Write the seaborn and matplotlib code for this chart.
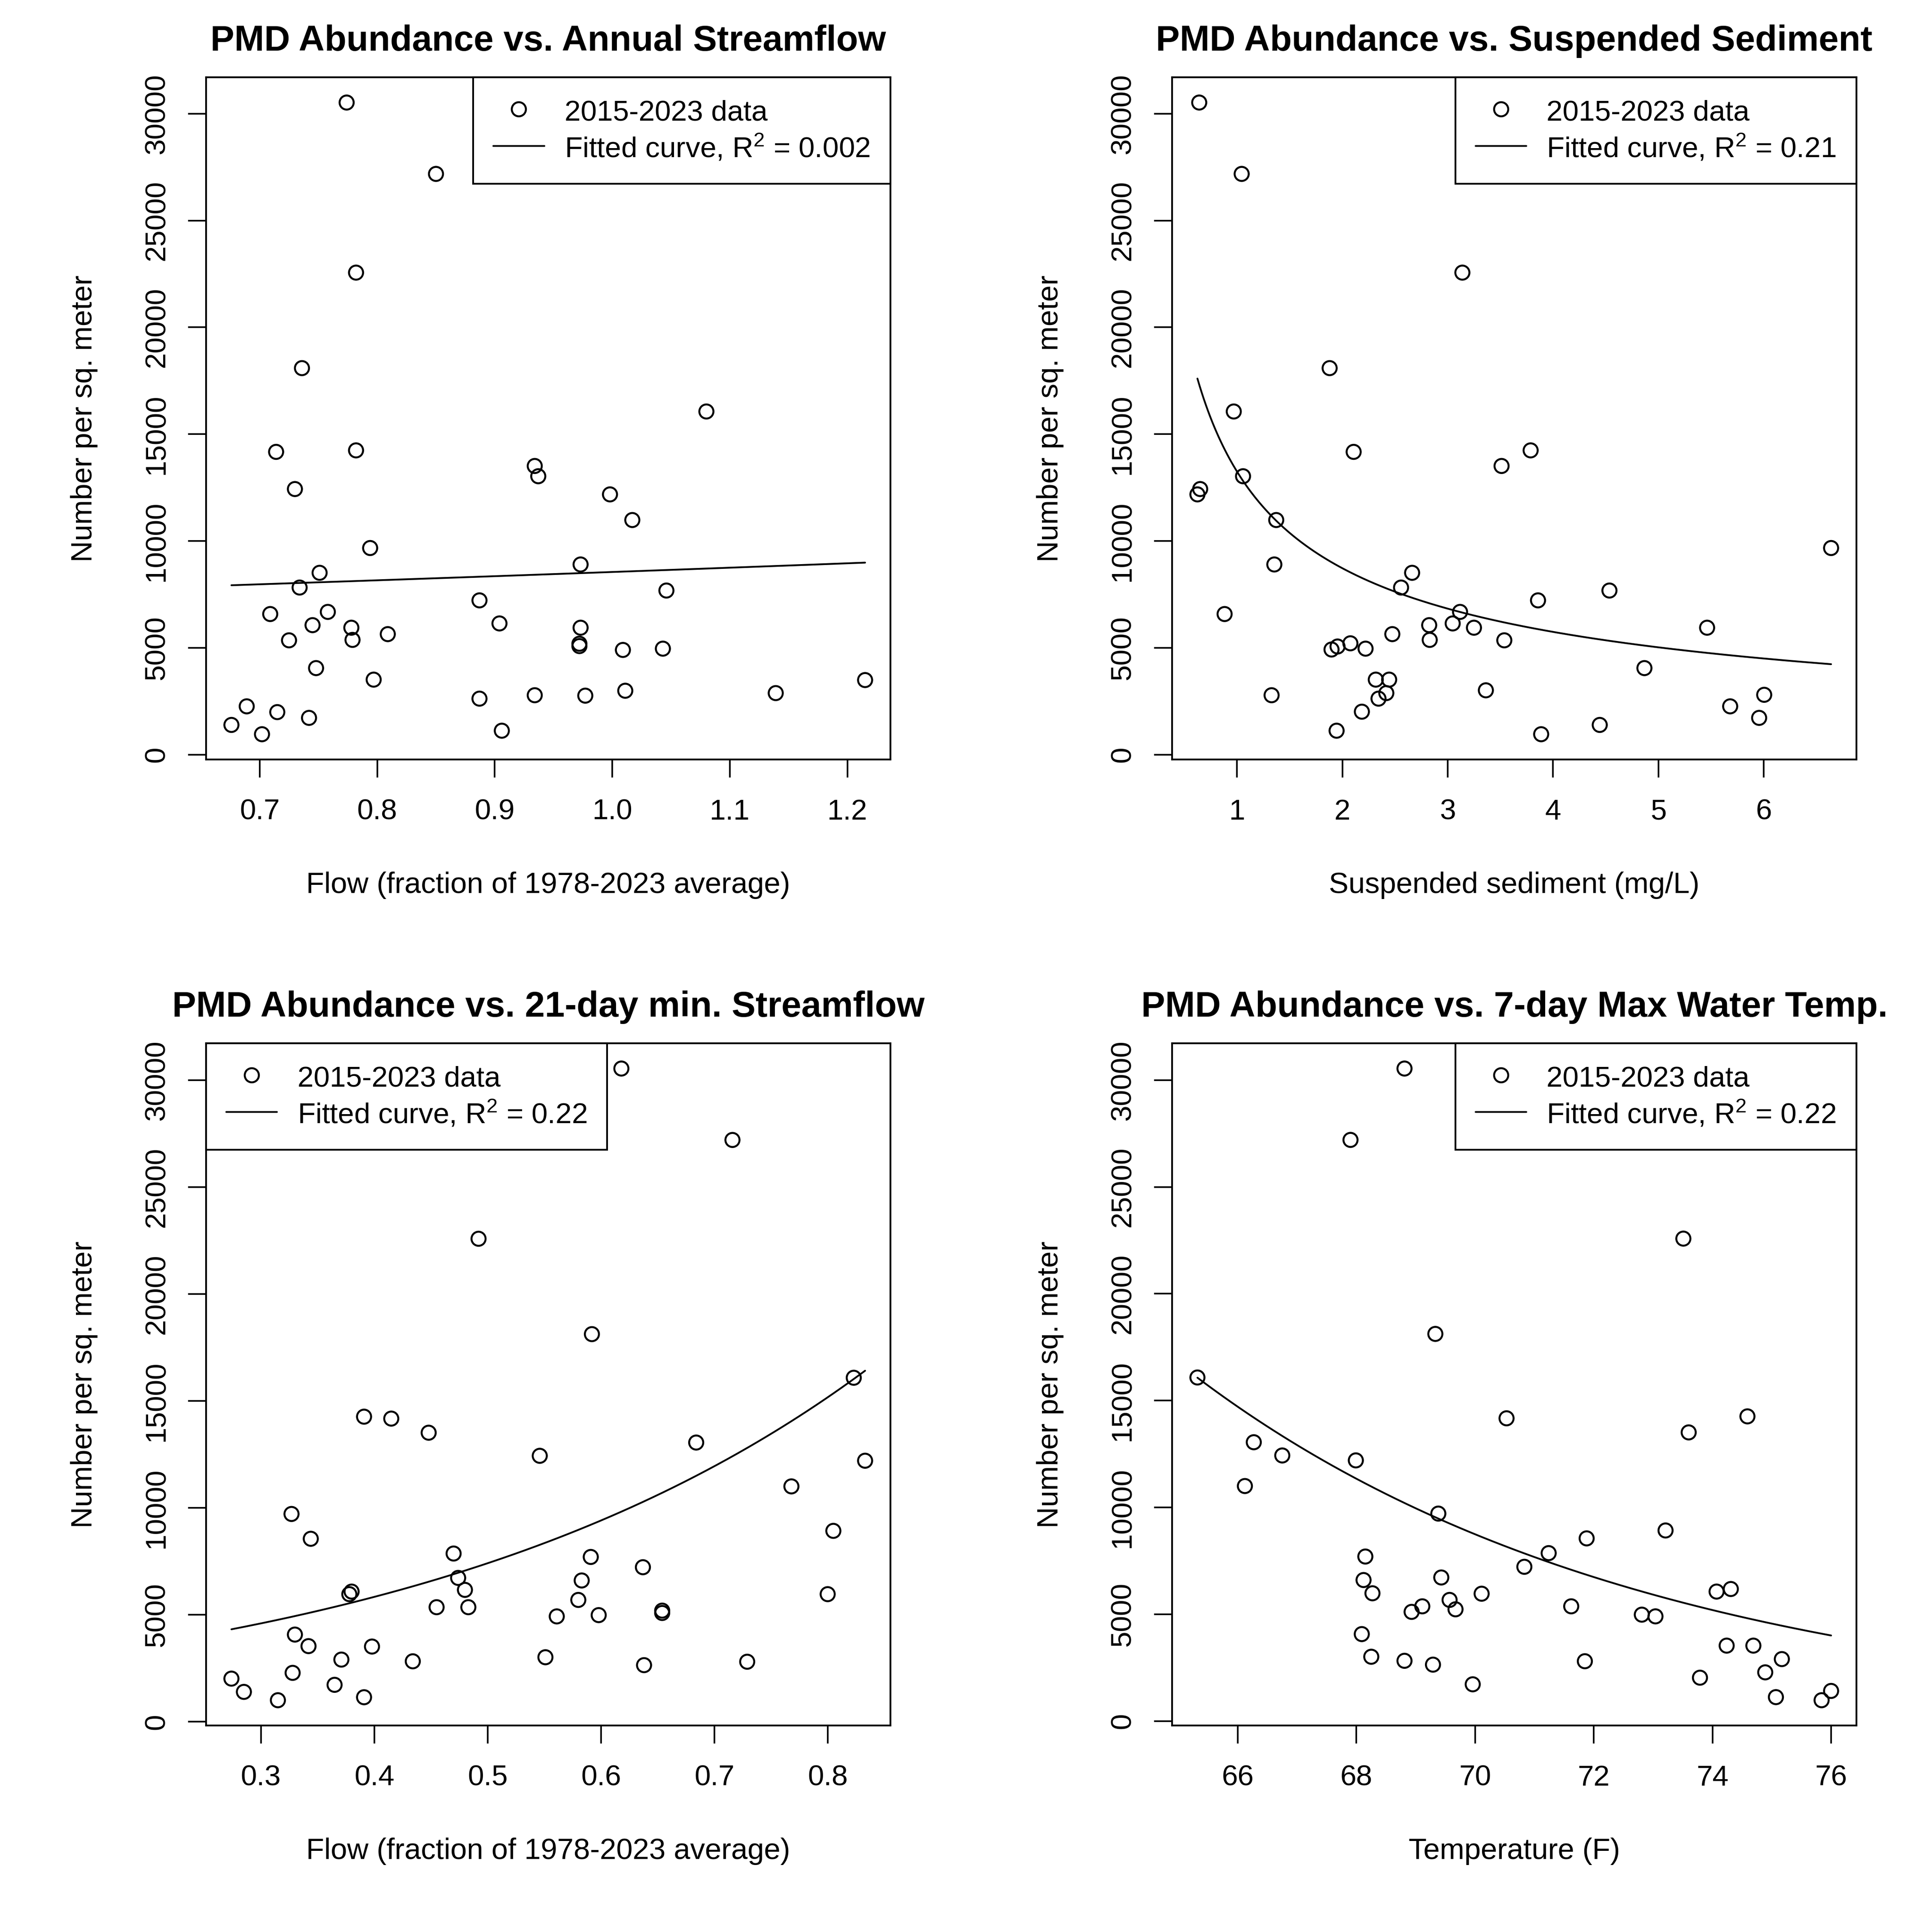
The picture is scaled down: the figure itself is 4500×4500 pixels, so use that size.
import numpy as np
import pandas as pd
import matplotlib
matplotlib.use("Agg")
import matplotlib.pyplot as plt
import seaborn as sns
from matplotlib.lines import Line2D

# ---------------- data ----------------
flow_x = [0.774, 0.850, 0.782, 0.736, 1.080, 0.714, 0.782, 0.934, 0.937, 0.730,
          0.998, 1.017, 0.794, 0.973, 0.751, 0.734, 1.046, 0.887, 0.709, 0.758,
          0.745, 0.778, 0.904, 0.973, 0.809, 0.725, 0.779, 0.972, 0.972, 1.009,
          1.043, 0.748, 0.797, 1.215, 1.139, 0.887, 0.934, 0.977, 1.011, 0.689,
          0.715, 0.742, 0.676, 0.702, 0.906]
flow_y = [30520, 27180, 22560, 18090, 16060, 14170, 14240, 13510, 13030, 12430,
          12180, 10980, 9670, 8900, 8510, 7820, 7680, 7220, 6580, 6680,
          6060, 5940, 6140, 5940, 5640, 5350, 5370, 5190, 5080, 4900,
          4960, 4050, 3510, 3490, 2880, 2620, 2780, 2760, 2990, 2260,
          1990, 1720, 1390, 955, 1120]

sed_x = [0.641, 1.044, 3.139, 1.879, 0.969, 2.107, 3.787, 3.511, 1.057, 0.650,
         0.624, 1.372, 6.639, 1.354, 2.662, 2.557, 4.535, 3.857, 0.882, 3.117,
         3.047, 2.824, 5.462, 3.249, 2.474, 2.829, 3.537, 2.076, 1.954, 1.897,
         2.220, 4.867, 2.317, 2.444, 3.362, 6.004, 1.328, 2.417, 2.343, 5.681,
         2.185, 5.956, 4.443, 3.887, 1.945]
sed_y = [30520, 27180, 22560, 18090, 16060, 14170, 14240, 13510, 13030, 12430,
         12180, 10980, 9670, 8900, 8510, 7820, 7680, 7220, 6580, 6680,
         6140, 6060, 5940, 5940, 5640, 5370, 5350, 5210, 5060, 4920,
         4960, 4050, 3510, 3510, 3010, 2800, 2780, 2880, 2620, 2260,
         2010, 1720, 1390, 955, 1120]

minflow_x = [0.618, 0.716, 0.492, 0.592, 0.823, 0.391, 0.415, 0.448, 0.546, 0.833,
             0.684, 0.768, 0.327, 0.805, 0.344, 0.470, 0.591, 0.637, 0.474, 0.583,
             0.480, 0.380, 0.378, 0.800, 0.580, 0.455, 0.483, 0.654, 0.654, 0.561,
             0.598, 0.330, 0.342, 0.398, 0.434, 0.371, 0.551, 0.638, 0.729, 0.328,
             0.365, 0.274, 0.285, 0.315, 0.391]
minflow_y = [30540, 27200, 22580, 18120, 16080, 14260, 14170, 13510, 12430, 12200,
             13050, 11000, 9710, 8920, 8550, 7860, 7700, 7220, 6720, 6600,
             6160, 6080, 5960, 5960, 5690, 5350, 5350, 5190, 5080, 4920,
             4980, 4070, 3530, 3510, 2820, 2900, 3010, 2640, 2800, 2280,
             1720, 2010, 1390, 1000, 1140]

temp_x = [68.81, 67.90, 73.51, 69.33, 65.32, 74.59, 70.53, 73.60, 66.27, 66.75,
          67.99, 66.12, 69.38, 73.21, 71.88, 71.24, 68.15, 70.83, 68.12, 69.43,
          74.31, 74.07, 68.27, 70.11, 69.57, 69.11, 71.62, 68.93, 69.67, 72.81,
          73.04, 68.09, 74.24, 74.69, 75.17, 68.25, 68.81, 69.29, 71.85, 74.89,
          73.79, 69.96, 76.00, 75.07, 75.84]
temp_y = [30540, 27200, 22580, 18120, 16080, 14260, 14170, 13510, 13050, 12430,
          12200, 11000, 9710, 8920, 8550, 7860, 7700, 7220, 6600, 6720,
          6180, 6060, 5980, 5960, 5670, 5370, 5370, 5110, 5230, 4980,
          4900, 4070, 3530, 3530, 2900, 3010, 2820, 2640, 2800, 2280,
          2030, 1720, 1410, 1120, 975]

# fitted-curve coefficients
fit_kind = ["exp", "power", "exp", "exp"]
fit_a = [6774.0, 13247.0, 2243.0, 7.884e7]
fit_b = [0.2326, -0.6027, 2.389, -0.1301]
r2_text = ["0.002", "0.21", "0.22", "0.22"]

titles = ["PMD Abundance vs. Annual Streamflow",
          "PMD Abundance vs. Suspended Sediment",
          "PMD Abundance vs. 21-day min. Streamflow",
          "PMD Abundance vs. 7-day Max Water Temp."]
xlabels = ["Flow (fraction of 1978-2023 average)",
           "Suspended sediment (mg/L)",
           "Flow (fraction of 1978-2023 average)",
           "Temperature (F)"]
ylabel = "Number per sq. meter"
xticks = [[0.7, 0.8, 0.9, 1.0, 1.1, 1.2],
          [1, 2, 3, 4, 5, 6],
          [0.3, 0.4, 0.5, 0.6, 0.7, 0.8],
          [66, 68, 70, 72, 74, 76]]
xticklabels = [["0.7", "0.8", "0.9", "1.0", "1.1", "1.2"],
               ["1", "2", "3", "4", "5", "6"],
               ["0.3", "0.4", "0.5", "0.6", "0.7", "0.8"],
               ["66", "68", "70", "72", "74", "76"]]
yticks = [0, 5000, 10000, 15000, 20000, 25000, 30000]
yticklabels = ["0", "5000", "10000", "15000", "20000", "25000", "30000"]
legend_loc = ["upper right", "upper right", "upper left", "upper right"]
data_label = "2015-2023 data"

xs_all = [flow_x, sed_x, minflow_x, temp_x]
ys_all = [flow_y, sed_y, minflow_y, temp_y]

# ---------------- style ----------------
sns.set_style("white")
plt.rcParams["font.family"] = ["Liberation Sans", "DejaVu Sans"]
plt.rcParams["mathtext.fontset"] = "custom"
plt.rcParams["mathtext.rm"] = "Liberation Sans"
plt.rcParams["mathtext.it"] = "Liberation Sans:italic"
plt.rcParams["mathtext.bf"] = "Liberation Sans:bold"
for k in ["text.color", "axes.labelcolor", "xtick.color", "ytick.color", "axes.edgecolor"]:
    plt.rcParams[k] = "black"

FS = 16.2      # tick labels / legend
LFS = 16.5     # axis labels
TFS = 20.0     # titles
LW = 1.0

fig = plt.figure(figsize=(15, 15), dpi=300)
FW = 4500.0
W = 1594 / FW
H = 1589 / FW
lefts = [480 / FW, 2730 / FW]
bottoms = [1 - 1769 / FW, 1 - 4019 / FW]


def rlim(v):
    lo, hi = min(v), max(v)
    p = 0.04 * (hi - lo)
    return lo - p, hi + p


for i in range(4):
    row, col = divmod(i, 2)
    ax = fig.add_axes([lefts[col], bottoms[row], W, H])
    x = xs_all[i]
    y = ys_all[i]
    df = pd.DataFrame({"x": x, "y": y})
    sns.scatterplot(data=df, x="x", y="y", ax=ax, marker="o", s=62,
                    facecolor="none", edgecolor="black", linewidth=1.1,
                    legend=False, zorder=3)
    cx = np.linspace(min(x), max(x), 300)
    if fit_kind[i] == "exp":
        cy = fit_a[i] * np.exp(fit_b[i] * cx)
    else:
        cy = fit_a[i] * cx ** fit_b[i]
    sns.lineplot(x=cx, y=cy, ax=ax, color="black", linewidth=LW,
                 estimator=None, sort=False, zorder=2)

    ax.set_xlim(*rlim(x))
    ax.set_ylim(*rlim(y))
    ax.set_xticks(xticks[i])
    ax.set_xticklabels(xticklabels[i])
    ax.set_yticks(yticks)
    ax.set_yticklabels(yticklabels, rotation=90, va="center")
    ax.tick_params(direction="out", length=10, width=0.9, labelsize=FS,
                   left=True, bottom=True)
    ax.tick_params(axis="x", pad=12)
    ax.tick_params(axis="y", pad=10)
    for sp in ax.spines.values():
        sp.set_linewidth(LW)
        sp.set_color("black")

    ax.set_xlabel(xlabels[i], fontsize=LFS)
    ax.xaxis.set_label_coords(0.5, -293 / 1589)
    ax.xaxis.label.set_va("center")
    ax.set_ylabel(ylabel, fontsize=LFS)
    ax.yaxis.set_label_coords(-284 / 1594, 0.5)
    ax.yaxis.label.set_va("center")

    ax.set_title(titles[i], fontsize=TFS, fontweight="bold",
                 y=1 + 84 / 1589, pad=0, va="center")

    handles = [Line2D([], [], marker="o", ls="none", mfc="none", mec="black",
                      ms=7.9, mew=1.1),
               Line2D([], [], color="black", lw=LW)]
    labels = [data_label, "Fitted curve, R$^{2}$ = " + r2_text[i]]
    leg = ax.legend(handles, labels, loc=legend_loc[i], borderaxespad=0,
                    fontsize=FS, fancybox=False, framealpha=1, edgecolor="black",
                    borderpad=0.7, handlelength=1.75, handletextpad=0.7,
                    labelspacing=0.25, handleheight=1.0)
    leg.get_frame().set_linewidth(LW)

fig.savefig("out.png", dpi=300)
